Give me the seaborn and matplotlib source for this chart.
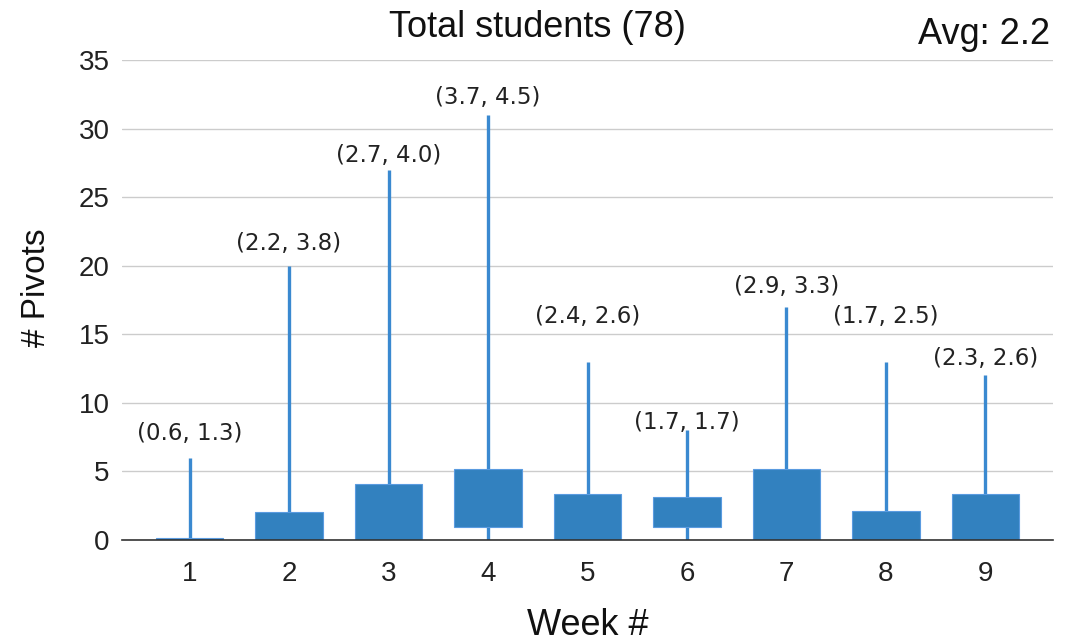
import numpy as np
import seaborn as sns
import matplotlib
import matplotlib.pyplot as plt

matplotlib.use('Agg')

# Data
weeks = [1, 2, 3, 4, 5, 6, 7, 8, 9]
box_low = [0, 0, -0.05, 0.95, 0, 0.95, 0, 0, 0]
box_high = [0.15, 2.05, 4.1, 5.2, 3.35, 3.1, 5.15, 2.1, 3.35]
whisker_min = [0, 0, 0, 0, 0, 0, 0, 0, 0]
whisker_max = [6, 20, 27, 31, 13, 8, 17, 13, 12]
point_labels = ['(0.6, 1.3)', '(2.2, 3.8)', '(2.7, 4.0)', '(3.7, 4.5)', '(2.4, 2.6)',
                '(1.7, 1.7)', '(2.9, 3.3)', '(1.7, 2.5)', '(2.3, 2.6)']
# where each label sits (centre, in y units)
label_y = [7.8, 21.65, 28.05, 32.3, 16.3, 8.6, 18.45, 16.3, 13.2]
y_ticks = [0, 5, 10, 15, 20, 25, 30, 35]

sns.set_theme(style='whitegrid')
plt.rcParams['font.family'] = ['Liberation Sans', 'DejaVu Sans']

blue = '#3281bf'

fig = plt.figure(figsize=(10.79, 6.44), dpi=100)
ax = fig.add_axes([0.113, 0.1615, 0.863, 0.7453])

x = np.array(weeks)
# whiskers first, boxes on top
ax.vlines(x, whisker_min, whisker_max, color='#3a89d0', linewidth=2.4, zorder=2)
heights = np.array(box_high) - np.array(box_low)
ax.bar(x, heights, bottom=box_low, width=0.68, color=blue,
       edgecolor='#5a9be0', linewidth=0.8, zorder=3)

for xi, ly, lab in zip(x, label_y, point_labels):
    ax.text(xi, ly, lab, ha='center', va='center', fontsize=16.5,
            family='DejaVu Sans', color='#222222', zorder=5)

ax.set_xlim(0.32, 9.68)
ax.set_ylim(0, 35)
ax.set_yticks(y_ticks)
ax.set_xticks(weeks)
ax.tick_params(axis='both', labelsize=20, colors='#222222', length=0)
ax.tick_params(axis='x', pad=15)
ax.tick_params(axis='y', pad=9)
ax.grid(axis='x', visible=False)
ax.grid(axis='y', color='#cccccc', linewidth=1)

sns.despine(ax=ax, left=True, top=True, right=True)
ax.spines['bottom'].set_color('#333333')
ax.spines['bottom'].set_linewidth(1.2)
ax.spines['bottom'].set_zorder(4)

ax.set_xlabel('Week #', fontsize=26, color='#111111')
ax.xaxis.set_label_coords(0.5, -0.142)
ax.set_ylabel('# Pivots', fontsize=24, color='#111111')
ax.yaxis.set_label_coords(-0.075, 0.525)

fig.text(0.498, 1 - 37 / 644, 'Total students (78)', ha='center', va='baseline',
         fontsize=26, color='#111111')
fig.text(0.973, 1 - 44 / 644, 'Avg: 2.2', ha='right', va='baseline',
         fontsize=26, color='#111111')

fig.savefig('out.png', dpi=100)
